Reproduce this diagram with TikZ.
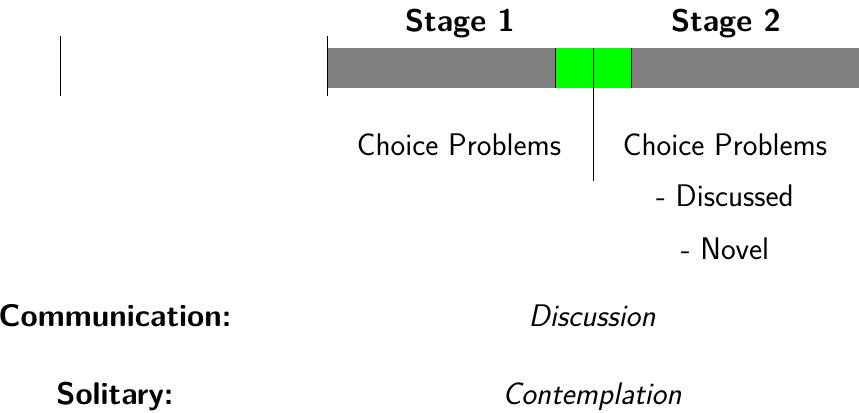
\documentclass[tikz,border=0pt]{standalone}
\usepackage{xcolor}
\usepackage{tikz}
\usetikzlibrary{positioning}

\tikzset{
  lbl/.style={font=\fontsize{22.2}{26}\selectfont\sffamily},
  stagelbl/.style={font=\fontsize{22.2}{26}\selectfont\sffamily\bfseries},
  rowlbl/.style={font=\fontsize{22.2}{26}\selectfont\sffamily\bfseries},
  modelbl/.style={font=\fontsize{22.2}{26}\selectfont\sffamily\itshape}
}

\begin{document}
\begin{tikzpicture}
\useasboundingbox (0,0) rectangle (21.475,10.3);

% Barra del tempo
\fill[gray] (8.17,8.1) rectangle (21.475,9.1);
\fill[green] (13.875,8.1) rectangle (15.79,9.1);
\draw (13.875,8.1) -- (13.875,9.1);
\draw (15.79,8.1) -- (15.79,9.1);

% Tacche
\coordinate (t0a) at (1.5,9.4);
\coordinate (t0b) at (1.5,7.9);
\coordinate (t1a) at (8.17,9.4);
\coordinate (t1b) at (8.17,7.9);
\coordinate (mida) at (14.825,9.1);
\coordinate (midb) at (14.825,5.775);
\draw (t0a) -- (t0b);
\draw (t1a) -- (t1b);
\draw (mida) -- (midb);

% Stadi
\node[stagelbl] (stage1) at (11.5,9.7) {Stage 1};
\node[stagelbl] (stage2) at (18.15,9.7) {Stage 2};

\node[lbl] (cp1) at (11.475,6.675) {Choice Problems};
\node[lbl] (cp2) at (18.125,6.675) {Choice Problems};
\node[lbl] (disc) at (18.125,5.4) {- Discussed};
\node[lbl] (novel) at (18.125,4.075) {- Novel};

% Righe in basso
\node[rowlbl] (comm) at (2.875,2.4) {Communication:};
\node[rowlbl] (solit) at (2.875,0.375) {Solitary:};
\node[modelbl] (discussion) at (14.8,2.4) {Discussion};
\node[modelbl] (contemp) at (14.8,0.375) {Contemplation};

\end{tikzpicture}
\end{document}
